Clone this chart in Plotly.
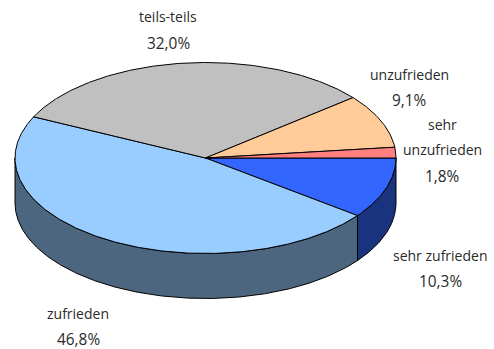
import numpy as np
import plotly.graph_objects as go

# Data (clockwise from 3 o'clock)
categories = ["sehr zufrieden", "zufrieden", "teils-teils", "unzufrieden", "sehr unzufrieden"]
values = [10.3, 46.8, 32.0, 9.1, 1.8]
top_colors = ["#3366FF", "#99CCFF", "#C0C0C0", "#FFCC99", "#FF8080"]
side_colors = ["#19337F", "#4C667F", "#606060", "#7F664C", "#7F4040"]

# Layout of the drawing, in pixels
W, H = 494, 349
CX, CY, RX, RY, DEPTH = 205.5, 158.0, 190.5, 95.5, 45.0
FONT = "Open Sans"
NAME_SIZE = 14
PERCENT_SIZE = 15.4
TEXT = "#2A2A2A"
label_lines = [
    (["sehr zufrieden"], 440, [255, 281]),
    (["zufrieden"], 78, [313, 339]),
    (["teils-teils"], 168, [16, 43]),
    (["unzufrieden"], 409, [74, 100]),
    (["sehr", "unzufrieden"], 442, [124, 149, 176]),
]


def arc(a0, a1, dy=0.0):
    n = max(2, int(abs(a1 - a0) * 2) + 2)
    t = np.radians(np.linspace(a0, a1, n))
    return CX + RX * np.cos(t), CY + dy + RY * np.sin(t)


fig = go.Figure()
edges = np.concatenate([[0], np.cumsum(values)]) * 3.6

# Outer walls (only the part facing the viewer, 0..180 degrees)
for i in range(len(values)):
    a0, a1 = edges[i], min(edges[i + 1], 180)
    if a0 >= 180:
        continue
    xt, yt = arc(a0, a1)
    xb, yb = arc(a1, a0, DEPTH)
    fig.add_trace(go.Scatter(
        x=np.r_[xt, xb, xt[0]], y=np.r_[yt, yb, yt[0]],
        mode="lines", fill="toself", fillcolor=side_colors[i],
        line=dict(color="#000000", width=1), hoverinfo="skip", showlegend=False,
    ))

# Top face
for i in range(len(values)):
    xa, ya = arc(edges[i], edges[i + 1])
    fig.add_trace(go.Scatter(
        x=np.r_[CX, xa, CX], y=np.r_[CY, ya, CY],
        mode="lines", fill="toself", fillcolor=top_colors[i],
        line=dict(color="#000000", width=1), name=categories[i],
        hoverinfo="skip", showlegend=False,
    ))

# Labels: one annotation per line so the wide line spacing can be kept
for (lines, x, ys), v in zip(label_lines, values):
    texts = lines + [f"{v:.1f}".replace(".", ",") + "%"]
    sizes = [NAME_SIZE] * len(lines) + [PERCENT_SIZE]
    for t, y, s in zip(texts, ys, sizes):
        fig.add_annotation(x=x, y=y, text=t, showarrow=False, xanchor="center", yanchor="middle",
                           font=dict(family=FONT, size=s, color=TEXT))

fig.update_layout(
    width=W, height=H, margin=dict(l=0, r=0, t=0, b=0),
    paper_bgcolor="#FFFFFF", plot_bgcolor="#FFFFFF", showlegend=False,
    xaxis=dict(range=[0, W], visible=False, fixedrange=True),
    yaxis=dict(range=[H, 0], visible=False, fixedrange=True),
)
fig.write_html("out.html", config={"displayModeBar": False},
               post_script="document.body.style.margin='0';")
